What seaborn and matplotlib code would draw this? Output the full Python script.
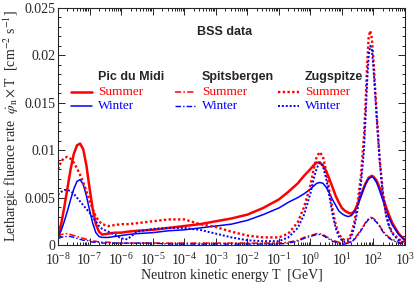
import numpy as np
import pandas as pd
import matplotlib
matplotlib.use("Agg")
import matplotlib.pyplot as plt
import seaborn as sns
from matplotlib.lines import Line2D
from matplotlib.ticker import LogLocator, LogFormatterMathtext, MultipleLocator, FuncFormatter, NullFormatter

# log10 of neutron energy in GeV (shared grid for all curves)
log_e = [-8.0, -7.9, -7.8, -7.7, -7.6, -7.5, -7.4, -7.3, -7.2, -7.1, -7.0, -6.9, -6.8, -6.7, -6.6,
         -6.4, -6.2, -6.0, -5.8, -5.5, -5.0, -4.5, -4.0, -3.5, -3.0, -2.5, -2.0, -1.5, -1.0,
         -0.7, -0.4, -0.2, 0.0, 0.1, 0.2, 0.3, 0.4, 0.5, 0.6, 0.7, 0.8, 0.9, 1.0, 1.1, 1.2,
         1.3, 1.4, 1.5, 1.6, 1.7, 1.75, 1.8, 1.85, 1.9, 1.95, 2.0, 2.1, 2.2, 2.3, 2.4, 2.5,
         2.6, 2.8, 3.0]

pdm_summer = [.0008, .0022, .0040, .0060, .0080, .0096, .0105, .0107, .0101, .0084, .0060, .0038, .0022, .0014, .0011,
              .0012, .0013, .0013, .0014, .0015, .0016, .0018, .0020, .0022, .0025, .0028, .0032, .0039, .0048,
              .0056, .0065, .0073, .0080, .0084, .0087, .0087, .0084, .0078, .0070, .0061, .0052, .0045, .0039, .0036, .0034,
              .0033, .0036, .0043, .0052, .0061, .0065, .0068, .0071, .0072, .0073, .0072, .0068, .0060, .0050, .0040, .0031,
              .0023, .0012, .0005]
pdm_winter = [.0009, .0015, .0025, .0036, .0048, .0059, .0067, .0069, .0064, .0052, .0037, .0023, .0013, .0009, .0008,
              .0008, .0009, .0010, .0011, .0012, .0013, .0015, .0016, .0018, .0020, .0022, .0026, .0032, .0039,
              .0045, .0050, .0054, .0059, .0062, .0065, .0066, .0065, .0061, .0055, .0048, .0042, .0036, .0033, .0031, .0030,
              .0031, .0035, .0042, .0051, .0060, .0064, .0067, .0070, .0071, .0072, .0071, .0066, .0057, .0047, .0037, .0028,
              .0021, .0011, .0005]
spb_summer = [.0009, .0011, .0012, .0012, .0011, .0010, .0009, .0008, .0007, .0006, .0005, .0004, .0004, .0003, .0003,
              .0003, .0002, .0002, .0002, .0002, .0002, .0002, .0002, .0002, .0002, .0002, .0002, .0002, .0002,
              .0003, .0005, .0008, .0010, .0011, .0012, .0012, .0011, .0009, .0007, .0005, .0004, .0003, .0002, .0002, .0002,
              .0004, .0007, .0011, .0016, .0021, .0024, .0026, .0028, .0029, .0029, .0028, .0025, .0020, .0015, .0011, .0008,
              .0006, .0003, .0001]
spb_winter = [.0007, .0008, .0009, .0009, .0009, .0008, .0007, .0006, .0005, .0005, .0004, .0003, .0003, .0003, .0002,
              .0002, .0002, .0002, .0002, .0002, .0002, .0001, .0001, .0001, .0001, .0001, .0001, .0001, .0001,
              .0002, .0004, .0007, .0009, .0010, .0011, .0011, .0010, .0008, .0006, .0004, .0003, .0002, .0001, .0001, .0002,
              .0003, .0006, .0010, .0015, .0020, .0023, .0025, .0027, .0028, .0028, .0027, .0024, .0019, .0014, .0010, .0007,
              .0005, .0002, .0001]
zug_summer = [.0080, .0088, .0092, .0093, .0091, .0087, .0081, .0074, .0066, .0057, .0047, .0038, .0030, .0025, .0022,
              .0020, .0021, .0022, .0022, .0023, .0025, .0027, .0027, .0022, .0019, .0014, .0010, .0008, .0008,
              .0012, .0024, .0040, .0063, .0079, .0093, .0098, .0093, .0078, .0058, .0038, .0022, .0012, .0007, .0005, .0006,
              .0012, .0025, .0045, .0072, .0115, .0150, .0190, .0220, .0226, .0218, .0195, .0140, .0090, .0055, .0033, .0020,
              .0013, .0006, .0003]
zug_winter = [.0053, .0056, .0058, .0058, .0057, .0054, .0050, .0046, .0042, .0038, .0034, .0029, .0025, .0020, .0017,
              .0014, .0011, .0007, .0006, .0014, .0017, .0018, .0018, .0016, .0012, .0008, .0005, .0004, .0004,
              .0008, .0018, .0032, .0054, .0069, .0081, .0087, .0083, .0070, .0052, .0033, .0018, .0009, .0005, .0003, .0004,
              .0009, .0020, .0038, .0063, .0100, .0135, .0172, .0200, .0210, .0206, .0187, .0135, .0087, .0053, .0031, .0019,
              .0012, .0005, .0002]

sites = ["Pic du Midi", "Spitsbergen", "Zugspitze"]
seasons = ["Summer", "Winter"]
series = {("Pic du Midi", "Summer"): pdm_summer, ("Pic du Midi", "Winter"): pdm_winter,
          ("Spitsbergen", "Summer"): spb_summer, ("Spitsbergen", "Winter"): spb_winter,
          ("Zugspitze", "Summer"): zug_summer, ("Zugspitze", "Winter"): zug_winter}

energy = 10.0 ** np.array(log_e)
rows = []
for (site, season), vals in series.items():
    for e, v in zip(energy, vals):
        rows.append((site, season, e, v))
df = pd.DataFrame(rows, columns=["site", "season", "energy", "rate"])

colors = {"Summer": "#ff0000", "Winter": "#0000ff"}
styles = {"Pic du Midi": "-", "Spitsbergen": (0, (4, 1.5, 1, 1.5)), "Zugspitze": (0, (1, 1))}
widths = {("Pic du Midi", "Summer"): 1.8, ("Pic du Midi", "Winter"): 1.1,
          ("Spitsbergen", "Summer"): 1.1, ("Spitsbergen", "Winter"): 1.0,
          ("Zugspitze", "Summer"): 1.7, ("Zugspitze", "Winter"): 1.4}

sns.set_style("ticks")
plt.rcParams["font.family"] = ["Liberation Serif", "DejaVu Serif"]
plt.rcParams["mathtext.fontset"] = "stix"

fig = plt.figure(figsize=(4.15, 2.83), dpi=100)
ax = fig.add_axes([58 / 415, 38 / 283, 347 / 415, 237 / 283])

for site in sites:
    for season in seasons:
        d = df[(df.site == site) & (df.season == season)]
        sns.lineplot(data=d, x="energy", y="rate", ax=ax, color=colors[season],
                     linestyle=styles[site], linewidth=widths[(site, season)], sort=False)

ax.set_xscale("log")
ax.set_xlim(1e-8, 1e3)
ax.set_ylim(0, 0.025)
ax.xaxis.set_major_locator(LogLocator(base=10, numticks=20))
ax.xaxis.set_minor_locator(LogLocator(base=10, subs=np.arange(2, 10), numticks=20))
ax.xaxis.set_major_formatter(LogFormatterMathtext())
ax.xaxis.set_minor_formatter(NullFormatter())
ax.yaxis.set_major_locator(MultipleLocator(0.005))
ax.yaxis.set_minor_locator(MultipleLocator(0.001))
ax.yaxis.set_major_formatter(FuncFormatter(lambda v, p: "%g" % round(v, 4)))
ax.tick_params(which="both", direction="in", top=True, right=True, labelsize=10, width=0.7)
ax.tick_params(axis="x", which="major", pad=5)
ax.tick_params(axis="y", which="major", pad=2)
ax.tick_params(which="major", length=5)
ax.tick_params(which="minor", length=2.5)
for s in ax.spines.values():
    s.set_linewidth(0.8)

ax.set_xlabel("Neutron kinetic energy T  [GeV]", fontsize=10, labelpad=0.5)
ax.set_ylabel(r"Lethargic fluence rate  $\dot{\varphi}_{\rm n}\times$T  [cm$^{-2}$ s$^{-1}$]",
              fontsize=10, labelpad=2)

# legend block
ax.text(0.481, 0.899, "BSS data", transform=ax.transAxes, ha="center", va="center",
        fontsize=9, fontweight="bold", family="Liberation Sans")
col_x = [0.0375, 0.336, 0.634]
row_y = [0.709, 0.646, 0.587]
for i, site in enumerate(sites):
    x0 = col_x[i]
    ax.text(x0 + 0.078, row_y[0], site, transform=ax.transAxes, ha="left", va="center",
            fontsize=9, fontweight="bold", family="Liberation Sans")
    for j, season in enumerate(seasons):
        y = row_y[j + 1]
        ax.add_line(Line2D([x0, x0 + 0.06], [y, y], transform=ax.transAxes, color=colors[season],
                           linestyle=styles[site], linewidth=widths[(site, season)]))
        ax.text(x0 + 0.078, y, season, transform=ax.transAxes, ha="left", va="center",
                fontsize=9.5, color=colors[season])

fig.savefig("out.png", dpi=100)
